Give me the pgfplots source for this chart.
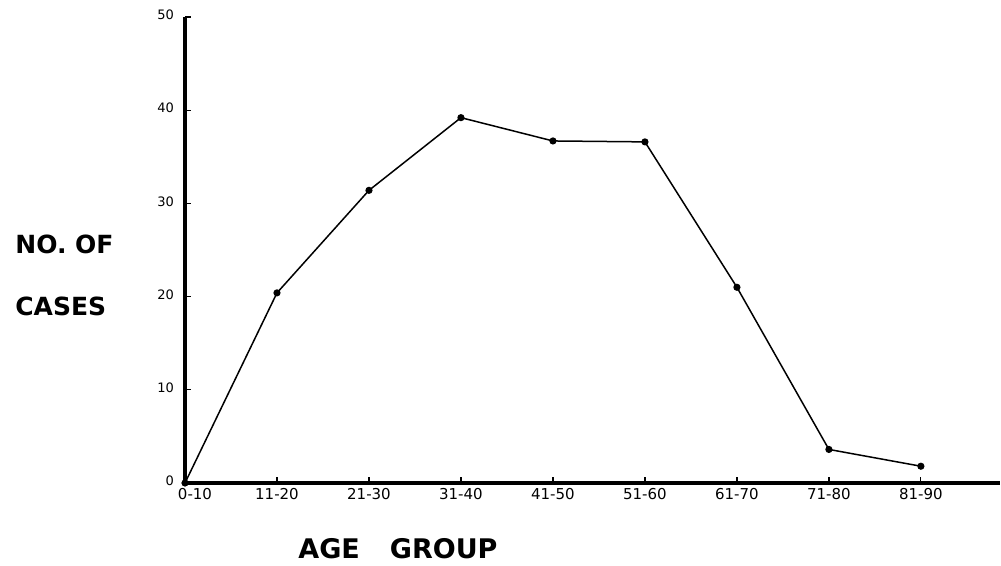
\documentclass[border=0pt]{standalone}
\usepackage{pgfplots}
\pgfplotsset{compat=1.18}
\usepackage{fontspec}
\setmainfont{DejaVu Sans}
\begin{document}
\begin{tikzpicture}[x=0.5pt,y=0.5pt]
\useasboundingbox (0,0) rectangle (1001,566);
\begin{axis}[
  scale only axis,
  width=407.5pt, height=233pt,
  at={(92.5pt,41.5pt)}, anchor=origin,
  xmin=0, xmax=8.86, ymin=0, ymax=50,
  axis lines=left,
  axis line style={-, line width=1.6pt},
  xtick={0,...,8},
  xticklabels={\hspace{10pt}0-10,11-20,21-30,31-40,41-50,51-60,61-70,71-80,81-90},
  ytick={0,10,20,30,40,50},
  tick style={black, line width=0.6pt},
  major tick length=3pt,
  tick align=inside,
  x tick label style={font=\fontsize{7.5}{8}\selectfont, yshift=1pt},
  y tick label style={font=\fontsize{6.5}{7}\selectfont, xshift=-2pt, yshift=1pt},
  /pgf/number format/assume math mode=true,
  clip=false,
]
\addplot[black, line width=0.75pt, mark=*, mark size=1.4pt] coordinates {
  (0,0) (1,20.4) (2,31.4) (3,39.2) (4,36.7) (5,36.6) (6,21.0) (7,3.6) (8,1.8)
};
\end{axis}
\node[font=\bfseries\fontsize{12.5}{14}\selectfont, anchor=west, inner sep=0pt] at (15,566-244) {NO. OF};
\node[font=\bfseries\fontsize{12.5}{14}\selectfont, anchor=west, inner sep=0pt] at (15,566-306) {CASES};
\node[font=\bfseries\fontsize{13.5}{15}\selectfont, anchor=west, inner sep=0pt] at (298,566-549) {AGE\hspace{15pt}GROUP};
\end{tikzpicture}
\end{document}
